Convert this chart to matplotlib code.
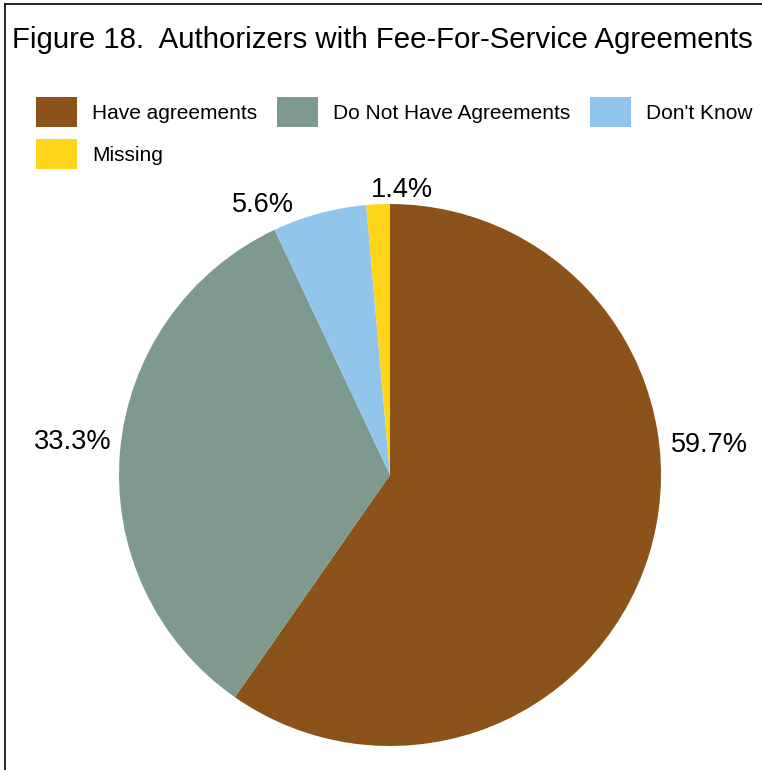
import matplotlib.pyplot as plt
from matplotlib.patches import Patch
from matplotlib.lines import Line2D

plt.rcParams['font.family'] = ['Liberation Sans', 'DejaVu Sans']

categories = ["Have agreements", "Do Not Have Agreements", "Don't Know", "Missing"]
shares = [59.7, 33.3, 5.6, 1.4]
colors = ["#8B5219", "#7E9A8F", "#92C5EB", "#FED51A"]
# where each percent label sits, in pie radius units
label_pos = [(1.18, 0.11), (-1.17, 0.12), (-0.47, 0.995), (0.045, 1.05)]

W, H = 762, 770
fig = plt.figure(figsize=(W / 100, H / 100), dpi=100)

cx, cy, r = 390, H - 475, 271
ax = fig.add_axes([(cx - r) / W, (cy - r) / H, 2 * r / W, 2 * r / H])
wedges, texts = ax.pie(shares, colors=colors, startangle=90, counterclock=False,
                       labels=["%.1f%%" % s for s in shares],
                       textprops=dict(fontsize=19.5))
for t, (x, y) in zip(texts, label_pos):
    t.set_position((x, y))
    t.set_ha('center')
    t.set_va('center')
ax.set_xlim(-1, 1)
ax.set_ylim(-1, 1)
ax.set_aspect('equal')
ax.axis('off')

fig.text(12 / W, 1 - 40 / H, "Figure 18.  Authorizers with Fee-For-Service Agreements",
         fontsize=21.2, ha='left', va='center')

# legend fills column-wise, so Missing goes second
order = [0, 3, 1, 2]
handles = [Patch(facecolor=colors[i], edgecolor='none', label=categories[i]) for i in order]
fig.legend(handles=handles, loc='upper left', bbox_to_anchor=(36 / W, 1 - 97 / H),
           ncol=3, frameon=False, fontsize=15, borderpad=0, borderaxespad=0,
           handlelength=1.97, handleheight=1.84, handletextpad=0.72,
           labelspacing=0.58, columnspacing=0.95)

# frame edges on top and left
fig.add_artist(Line2D([5 / W, 5 / W], [0, 1 - 4 / H], color='black', lw=1.2))
fig.add_artist(Line2D([5 / W, 1], [1 - 4 / H, 1 - 4 / H], color='black', lw=1.2))

fig.savefig("out.png", dpi=100)
